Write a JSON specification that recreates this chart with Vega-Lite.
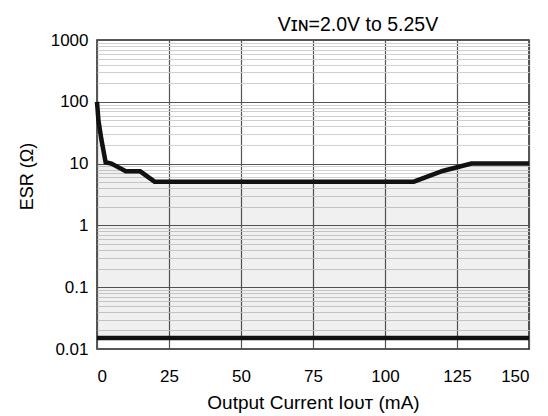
{
  "$schema": "https://vega.github.io/schema/vega-lite/v6.json",
  "width": 432,
  "height": 309,
  "autosize": "none",
  "padding": {"left": 97, "top": 40, "right": 19, "bottom": 67},
  "background": "white",
  "config": {
    "font": "Liberation Sans",
    "view": {"stroke": "#222222", "strokeWidth": 1.5}
  },
  "title": {
    "text": "Vɪɴ=2.0V to 5.25V",
    "anchor": "middle",
    "frame": "group",
    "dx": 45,
    "offset": -4,
    "fontSize": 19.5,
    "fontWeight": "normal",
    "font": "Liberation Sans",
    "color": "#000000"
  },
  "datasets": {
    "curve": [
      {"iout": 0, "esr": 100, "low": 0.015},
      {"iout": 0.5, "esr": 50, "low": 0.015},
      {"iout": 1.5, "esr": 25, "low": 0.015},
      {"iout": 3, "esr": 10.5, "low": 0.015},
      {"iout": 5, "esr": 10, "low": 0.015},
      {"iout": 10, "esr": 7.5, "low": 0.015},
      {"iout": 15, "esr": 7.5, "low": 0.015},
      {"iout": 20, "esr": 5.1, "low": 0.015},
      {"iout": 110, "esr": 5.1, "low": 0.015},
      {"iout": 120, "esr": 7.6, "low": 0.015},
      {"iout": 130, "esr": 10, "low": 0.015},
      {"iout": 150, "esr": 10, "low": 0.015}
    ]
  },
  "data": {"name": "curve"},
  "encoding": {
    "x": {
      "field": "iout",
      "type": "quantitative",
      "scale": {"domain": [0, 150], "nice": false, "zero": false},
      "axis": {
        "title": "Output Current Iᴏᴜᴛ (mA)",
        "values": [0, 25, 50, 75, 100, 125, 150],
        "grid": true,
        "gridColor": "#555555",
        "gridWidth": 1.2,
        "ticks": false,
        "domain": false,
        "labelFontSize": 17,
        "labelPadding": 19,
        "labelColor": "#000000",
        "titleFontSize": 19,
        "titleFontWeight": "normal",
        "titleColor": "#000000",
        "titlePadding": 9
      }
    }
  },
  "layer": [
    {
      "mark": {"type": "area", "color": "#000000", "opacity": 0.06},
      "encoding": {
        "y": {"field": "esr", "type": "quantitative"},
        "y2": {"field": "low"}
      }
    },
    {
      "mark": {"type": "line", "color": "#111111", "strokeWidth": 4.5, "strokeJoin": "miter"},
      "encoding": {
        "y": {
          "field": "esr",
          "type": "quantitative",
          "scale": {"type": "log", "domain": [0.01, 1000], "nice": false},
          "axis": {
            "title": "ESR (Ω)",
            "values": [0.01, 0.02, 0.03, 0.04, 0.05, 0.06, 0.07, 0.08, 0.09,
                       0.1, 0.2, 0.3, 0.4, 0.5, 0.6, 0.7, 0.8, 0.9,
                       1, 2, 3, 4, 5, 6, 7, 8, 9,
                       10, 20, 30, 40, 50, 60, 70, 80, 90,
                       100, 200, 300, 400, 500, 600, 700, 800, 900, 1000],
            "labelExpr": "indexof([0.01,0.1,1,10,100,1000], datum.value) >= 0 ? format(datum.value, '~g') : ''",
            "grid": true,
            "gridColor": {"condition": {"test": "indexof([0.01,0.1,1,10,100,1000], datum.value) >= 0", "value": "#555555"}, "value": "#d0d0d0"},
            "gridWidth": {"condition": {"test": "indexof([0.01,0.1,1,10,100,1000], datum.value) >= 0", "value": 1.2}, "value": 1},
            "ticks": false,
            "domain": false,
            "labelFontSize": 17,
            "labelPadding": 9,
            "labelColor": "#000000",
            "labelBound": false,
            "labelFlush": false,
            "labelOverlap": false,
            "titleFontSize": 18,
            "titleFontWeight": "normal",
            "titleColor": "#000000",
            "titlePadding": 14,
            "titleY": 136
          }
        }
      }
    },
    {
      "mark": {"type": "line", "color": "#111111", "strokeWidth": 4.5},
      "encoding": {
        "y": {"field": "low", "type": "quantitative"}
      }
    }
  ]
}
